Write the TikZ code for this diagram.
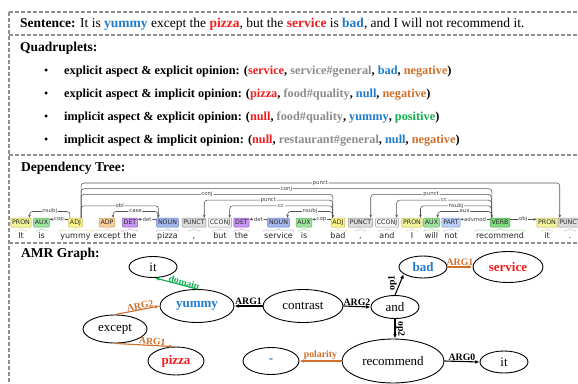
\documentclass[tikz,border=0pt]{standalone}
\usepackage{fontspec}
\setmainfont{Liberation Serif}
\newfontfamily\depfont{DejaVu Sans}
\usetikzlibrary{shapes.geometric,arrows.meta,calc}

% text colours
\definecolor{cred}{HTML}{F01E1E}
\definecolor{cblue}{HTML}{1F7BCB}
\definecolor{corange}{HTML}{D0702A}
\definecolor{cgray}{HTML}{8C8C8C}
\definecolor{cgreen}{HTML}{10B050}
\definecolor{framegray}{HTML}{8F8F8F}
% POS tag palette (fill / border)
\definecolor{pronF}{HTML}{F3F39B}\definecolor{pronD}{HTML}{BDB54A}
\definecolor{auxF}{HTML}{9EE39E}\definecolor{auxD}{HTML}{55A855}
\definecolor{adjF}{HTML}{FCF58A}\definecolor{adjD}{HTML}{C4B848}
\definecolor{adpF}{HTML}{F8CE9C}\definecolor{adpD}{HTML}{D39D5C}
\definecolor{detF}{HTML}{C895F2}\definecolor{detD}{HTML}{8E58C4}
\definecolor{nounF}{HTML}{A6B9EE}\definecolor{nounD}{HTML}{6478C8}
\definecolor{punctF}{HTML}{DDDDDD}\definecolor{punctD}{HTML}{8F8F8F}
\definecolor{cconjF}{HTML}{F5F5F5}\definecolor{cconjD}{HTML}{9A9A9A}
\definecolor{partF}{HTML}{BCCFF8}\definecolor{partD}{HTML}{7A94D2}
\definecolor{verbF}{HTML}{80DB80}\definecolor{verbD}{HTML}{48A448}

% one token: id, tag, x, word, fill, border
\newcommand{\deptok}[6]{%
  \node[tagbox, fill=#5, draw=#6] (t#1) at (#3,-222.5) {#2};
  \node[wordtxt] (w#1) at (#3,-238) {#4};
  \draw[draw=#6!55, line width=0.5pt, rounded corners=0.8pt]
    let \p1=(w#1.west), \p2=(w#1.east), \p3=(t#1.south) in
    (\x1-1pt,-231.5pt) -- (\x1,-230pt) -- (\x3-1.2pt,-230pt) -- (\x3,-228.2pt)
    -- (\x3+1.2pt,-230pt) -- (\x2,-230pt) -- (\x2+1pt,-231.5pt);}
% arc from head #1 to a dependent #2 on its right, at height #3
\newcommand{\deparcR}[4]{%
  \coordinate (hs) at ([xshift=-1.5pt]t#1.north east);
  \coordinate (de) at ([xshift=2pt]t#2.north west);
  \draw[deparc] (hs) -- (hs |- 0,-#3) -- (de |- 0,-#3) node[midway,deplbl]{#4} -- (de);}
% arc from head #1 to a dependent #2 on its left, at height #3
\newcommand{\deparcL}[4]{%
  \coordinate (hs) at ([xshift=1.5pt]t#1.north west);
  \coordinate (de) at ([xshift=-2pt]t#2.north east);
  \draw[deparc] (hs) -- (hs |- 0,-#3) -- (de |- 0,-#3) node[midway,deplbl]{#4} -- (de);}
% flat arcs between neighbouring boxes
\newcommand{\deparcHL}[3]{%
  \draw[deparc] (t#1.west |- 0,-219.3) -- (t#2.east |- 0,-219.3) node[midway,deplbl]{#3};}
\newcommand{\deparcHR}[3]{%
  \draw[deparc] (t#1.east |- 0,-219.3) -- (t#2.west |- 0,-219.3) node[midway,deplbl]{#3};}

\begin{document}
\begin{tikzpicture}[x=1pt,y=1pt,
  frame/.style={draw=framegray, line width=1.3pt, dash pattern=on 4pt off 2pt},
  head/.style={anchor=base west, inner sep=0pt, font=\fontsize{13.5}{15}\selectfont\bfseries},
  quad/.style={anchor=base west, inner sep=0pt, font=\fontsize{12.3}{14}\selectfont\bfseries},
  tagbox/.style={line width=0.5pt, rounded corners=0.8pt, inner xsep=1.3pt, inner ysep=0pt,
    minimum height=9pt, font=\depfont\fontsize{6.3}{6.3}\selectfont, text=black!85},
  wordtxt/.style={anchor=base, inner sep=0pt, minimum width=9pt, text=black!85,
    font=\depfont\fontsize{8}{8}\selectfont},
  deparc/.style={draw=black!68, line width=0.55pt, rounded corners=3pt,
    -{Stealth[length=3pt,width=2.6pt]}},
  deplbl/.style={fill=white, inner xsep=0.8pt, inner ysep=0.3pt, text=black!75,
    font=\depfont\fontsize{5.4}{5.4}\selectfont},
  amr/.style={ellipse, draw, line width=0.9pt, inner sep=0pt, font=\fontsize{13}{15}\selectfont},
  amrb/.style={amr, font=\fontsize{13}{15}\selectfont\bfseries},
  amredge/.style={line width=1.1pt, -{Latex[length=4.5pt,width=3.6pt]}},
  elbl/.style={inner sep=0.6pt, font=\fontsize{9.8}{11}\selectfont\bfseries}]

\useasboundingbox (0,0) rectangle (578,-383);
\fill[white] (0,0) rectangle (578,-383);
\clip (0,0) rectangle (578,-383);

% dashed panel frame
\draw[frame] (9,-12) -- (600,-12);
\draw[frame] (9,-12) -- (9,-400);
\draw[frame] (9,-35) -- (600,-35);
\draw[frame] (9,-155) -- (600,-155);
\draw[frame] (9,-243) -- (600,-243);

% sentence
\node[anchor=base west, inner sep=0pt, font=\fontsize{13.5}{15}\selectfont] (sent) at (20,-27.5)
  {\textbf{Sentence:} It is \textbf{\color{cblue}yummy} except the \textbf{\color{cred}pizza}, but the
   \textbf{\color{cred}service} is \textbf{\color{cblue}bad}, and I will not recommend it.};

% quadruplets
\node[head] (hq) at (20,-51) {Quadruplets:};
\foreach \yy/\nm in {74/b1, 97/b2, 120/b3, 143/b4}
  \node[anchor=base west, inner sep=0pt, font=\fontsize{12}{13}\selectfont] (\nm) at (44,-\yy) {\textbullet};
\node[quad] (q1) at (64,-74) {explicit aspect \& explicit opinion: (\textcolor{cred}{service}, \textcolor{cgray}{service\#general}, \textcolor{cblue}{bad}, \textcolor{corange}{negative})};
\node[quad] (q2) at (64,-97) {explicit aspect \& implicit opinion: (\textcolor{cred}{pizza}, \textcolor{cgray}{food\#quality}, \textcolor{cblue}{null}, \textcolor{corange}{negative})};
\node[quad] (q3) at (64,-120) {implicit aspect \& explicit opinion: (\textcolor{cred}{null}, \textcolor{cgray}{food\#quality}, \textcolor{cblue}{yummy}, \textcolor{cgreen}{positive})};
\node[quad] (q4) at (64,-143) {implicit aspect \& implicit opinion: (\textcolor{cred}{null}, \textcolor{cgray}{restaurant\#general}, \textcolor{cblue}{null}, \textcolor{corange}{negative})};

% dependency tree
\node[head] (hd) at (21,-171) {Dependency Tree:};
\deptok{1}{PRON}{21}{It}{pronF}{pronD}
\deptok{2}{AUX}{41.5}{is}{auxF}{auxD}
\deptok{3}{ADJ}{75.5}{yummy}{adjF}{adjD}
\deptok{4}{ADP}{107}{except}{adpF}{adpD}
\deptok{5}{DET}{130}{the}{detF}{detD}
\deptok{6}{NOUN}{167.5}{pizza}{nounF}{nounD}
\deptok{7}{PUNCT}{194}{,}{punctF}{punctD}
\deptok{8}{CCONJ}{220}{but}{cconjF}{cconjD}
\deptok{9}{DET}{241.5}{the}{detF}{detD}
\deptok{10}{NOUN}{278.5}{service}{nounF}{nounD}
\deptok{11}{AUX}{304}{is}{auxF}{auxD}
\deptok{12}{ADJ}{338}{bad}{adjF}{adjD}
\deptok{13}{PUNCT}{360.5}{,}{punctF}{punctD}
\deptok{14}{CCONJ}{387}{and}{cconjF}{cconjD}
\deptok{15}{PRON}{412}{I}{pronF}{pronD}
\deptok{16}{AUX}{431.5}{will}{auxF}{auxD}
\deptok{17}{PART}{451}{not}{partF}{partD}
\deptok{18}{VERB}{500}{recommend}{verbF}{verbD}
\deptok{19}{PRON}{547}{it}{pronF}{pronD}
\deptok{20}{PUNCT}{570}{.}{punctF}{punctD}

\deparcL{3}{1}{211.5}{nsubj}
\deparcHL{3}{2}{cop}
\deparcR{3}{6}{205.8}{obl}
\deparcL{6}{4}{211.5}{case}
\deparcHL{6}{5}{det}
\deparcR{3}{12}{194.4}{conj}
\deparcR{3}{18}{188.7}{conj}
\deparcR{3}{20}{183}{punct}
\deparcL{12}{7}{200.1}{punct}
\deparcL{12}{8}{205.8}{cc}
\deparcHL{10}{9}{det}
\deparcL{12}{10}{211.5}{nsubj}
\deparcHL{12}{11}{cop}
\deparcL{18}{13}{194.4}{punct}
\deparcL{18}{14}{200.1}{cc}
\deparcL{18}{15}{205.8}{nsubj}
\deparcL{18}{16}{211.5}{aux}
\deparcHL{18}{17}{advmod}
\deparcHR{18}{19}{obj}

% AMR graph
\node[head] (ha) at (21,-257) {AMR Graph:};
\node[amr, minimum width=48pt, minimum height=21pt] (it1) at (153,-267) {it};
\node[amrb, text=cblue, minimum width=74pt, minimum height=33pt] (yummy) at (197,-306) {yummy};
\node[amr, minimum width=64pt, minimum height=28pt] (except) at (115,-329) {except};
\node[amrb, text=cred, minimum width=56pt, minimum height=28pt] (pizza) at (176,-361) {pizza};
\node[amrb, text=cblue, minimum width=56pt, minimum height=27pt] (neg) at (271,-361) {-};
\node[amr, minimum width=80pt, minimum height=33pt] (contrast) at (303,-306) {contrast};
\node[amr, minimum width=48pt, minimum height=23pt] (and) at (395,-307) {and};
\node[amrb, text=cblue, minimum width=48pt, minimum height=22pt] (bad) at (423,-267) {bad};
\node[amrb, text=cred, minimum width=70pt, minimum height=31pt] (service) at (508,-267) {service};
\node[amr, minimum width=102pt, minimum height=44pt] (recommend) at (393,-361) {recommend};
\node[amr, minimum width=48pt, minimum height=22pt] (it2) at (504,-362) {it};

\draw[amredge, draw=cgreen, fill=cgreen] (yummy.north) -- (it1.-80);
\node[elbl, text=cgreen, anchor=south, rotate=-16] (ldomain) at (183,-286.5) {domain};

\draw[amredge, draw=corange, fill=corange] (except.north) -- (yummy.west);
\node[elbl, text=corange, anchor=south, rotate=11] (larg2a) at (141,-309.8) {ARG2};

\draw[amredge, draw=corange, fill=corange] (except.south) -- (pizza.100);
\node[elbl, text=corange, anchor=south, rotate=-4] (larg1a) at (152,-345.8) {ARG1};

\draw[amredge] (contrast.west) -- (yummy.east) node[midway, elbl, anchor=south] (larg1b) {ARG1};
\draw[amredge] (contrast.east) -- (and.west) node[midway, elbl, anchor=south] (larg2b) {ARG2};

\draw[amredge] (and.north) -- (bad.200);
\node[elbl, anchor=south, rotate=90] (lop1) at (397.5,-283) {op1};

\draw[amredge, draw=corange, fill=corange] (bad.east) -- (service.west)
  node[midway, elbl, text=corange, anchor=south] (larg1c) {ARG1};

\draw[amredge] (and.south) -- (and.south |- recommend.north);
\node[elbl, anchor=south, rotate=-90] (lop2) at (395.5,-329) {op2};

\draw[amredge, draw=corange, fill=corange] (recommend.west) -- (neg.east)
  node[midway, elbl, text=corange, anchor=south] (lpol) {polarity};
\draw[amredge] (recommend.east) -- (it2.west) node[midway, elbl, anchor=south] (larg0) {ARG0};

\end{tikzpicture}
\end{document}
